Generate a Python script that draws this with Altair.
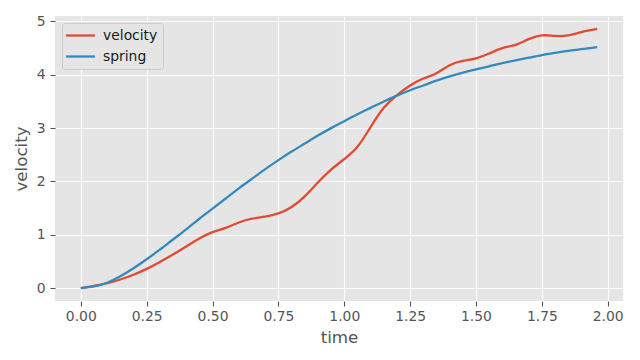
import altair as alt
import pandas as pd

# time samples
time = [0.00, 0.05, 0.10, 0.15, 0.20, 0.25, 0.30, 0.35, 0.40, 0.45,
        0.50, 0.55, 0.60, 0.65, 0.70, 0.75, 0.80, 0.85, 0.90, 0.95,
        1.00, 1.05, 1.10, 1.15, 1.20, 1.25, 1.30, 1.35, 1.40, 1.45,
        1.50, 1.55, 1.60, 1.65, 1.70, 1.75, 1.80, 1.85, 1.90, 1.96]

velocity = [0.00, 0.04, 0.09, 0.16, 0.25, 0.36, 0.49, 0.63, 0.78, 0.93,
            1.05, 1.13, 1.23, 1.30, 1.34, 1.40, 1.52, 1.72, 1.98, 2.22,
            2.42, 2.65, 3.02, 3.38, 3.62, 3.80, 3.93, 4.03, 4.18, 4.26,
            4.31, 4.40, 4.50, 4.56, 4.67, 4.74, 4.73, 4.74, 4.80, 4.86]

spring = [0.00, 0.03, 0.10, 0.22, 0.37, 0.54, 0.72, 0.91, 1.10, 1.30,
          1.49, 1.68, 1.87, 2.05, 2.23, 2.40, 2.56, 2.71, 2.86, 3.00,
          3.13, 3.26, 3.38, 3.50, 3.61, 3.71, 3.80, 3.89, 3.97, 4.04,
          4.10, 4.16, 4.22, 4.27, 4.32, 4.37, 4.41, 4.45, 4.48, 4.52]

series_names = ["velocity", "spring"]
series_colors = ["#E24A33", "#348ABD"]
x_ticks = [0.0, 0.25, 0.5, 0.75, 1.0, 1.25, 1.5, 1.75, 2.0]
y_ticks = [0, 1, 2, 3, 4, 5]

rows = []
for name, vals in zip(series_names, [velocity, spring]):
    for t, v in zip(time, vals):
        rows.append({"time": t, "value": v, "series": name})
df = pd.DataFrame(rows)

FONT = "DejaVu Sans"

chart = alt.Chart(df).mark_line(strokeWidth=2.3, interpolate="natural").encode(
    x=alt.X("time:Q",
            scale=alt.Scale(domain=[-0.098, 2.058], nice=False, zero=False),
            axis=alt.Axis(values=x_ticks, format=".2f", title="time",
                          labelPadding=3, titlePadding=7)),
    y=alt.Y("value:Q",
            scale=alt.Scale(domain=[-0.243, 5.103], nice=False, zero=False),
            axis=alt.Axis(values=y_ticks, format="d", title="velocity",
                          labelPadding=5, titlePadding=6)),
    color=alt.Color("series:N",
                    scale=alt.Scale(domain=series_names, range=series_colors),
                    legend=alt.Legend(title=None, orient="top-left",
                                      labelFont=FONT, labelFontSize=13.9,
                                      labelColor="#1a1a1a")),
).properties(
    width=568,
    height=285,
    autosize=alt.AutoSizeParams(type="none"),
    padding={"left": 47, "top": 8, "right": 9, "bottom": 50},
).configure_view(
    fill="#E5E5E5", stroke=None
).configure_axis(
    domain=False,
    grid=True,
    gridColor="#FFFFFF",
    gridWidth=1.1,
    tickColor="#555555",
    tickSize=5,
    tickWidth=1.1,
    labelColor="#555555",
    labelFont=FONT,
    labelFontSize=13.9,
    titleColor="#555555",
    titleFont=FONT,
    titleFontSize=16.7,
    titleFontWeight="normal",
).configure_legend(
    fillColor="#E5E5E5",
    strokeColor="#CCCCCC",
    cornerRadius=3,
    padding=5,
    offset=7,
    symbolType="M-2.4,0H2.4",
    symbolSize=144,
    symbolStrokeWidth=2.3,
    symbolOffset=6,
    labelOffset=15,
    rowPadding=6,
)

chart.save("out.html", embed_options={"renderer": "svg", "actions": False})
